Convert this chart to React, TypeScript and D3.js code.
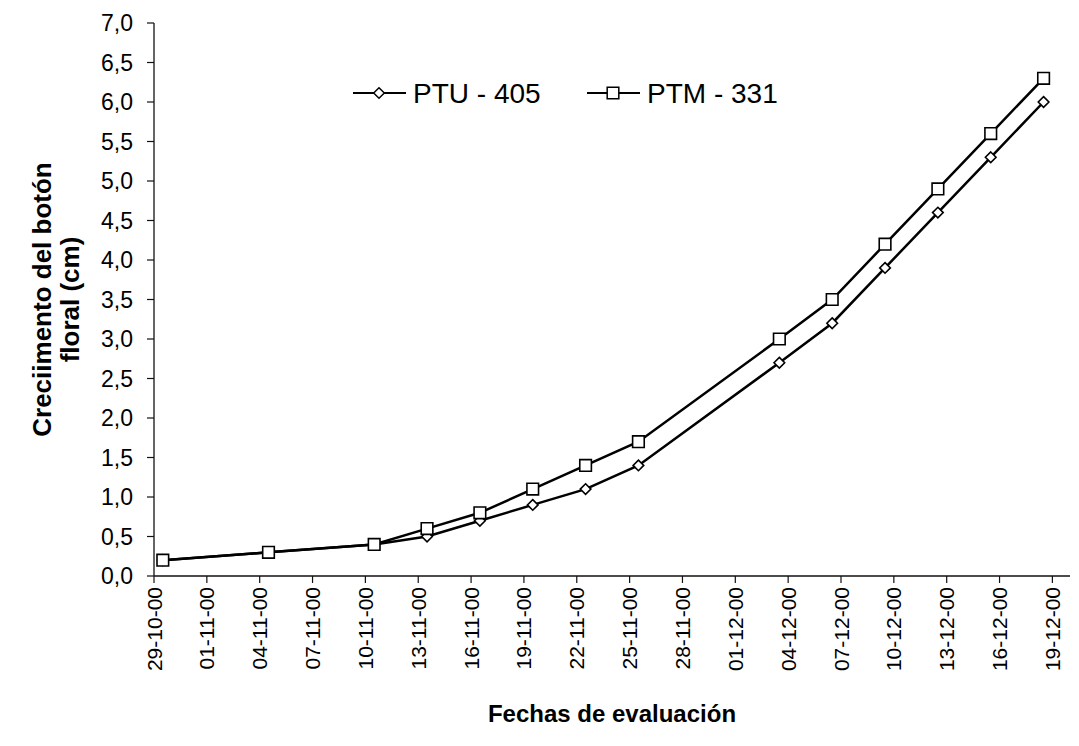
import React from 'react'
import * as d3 from 'd3'

const WIDTH = 1079
const HEIGHT = 746
const MARGIN = { top: 23, right: 9, bottom: 170, left: 154 }

const dates = [
  '2000-10-29', '2000-11-04', '2000-11-10', '2000-11-13', '2000-11-16',
  '2000-11-19', '2000-11-22', '2000-11-25', '2000-12-03', '2000-12-06',
  '2000-12-09', '2000-12-12', '2000-12-15', '2000-12-18'
]
const ptu405 = [0.2, 0.3, 0.4, 0.5, 0.7, 0.9, 1.1, 1.4, 2.7, 3.2, 3.9, 4.6, 5.3, 6.0]
const ptm331 = [0.2, 0.3, 0.4, 0.6, 0.8, 1.1, 1.4, 1.7, 3.0, 3.5, 4.2, 4.9, 5.6, 6.3]
const seriesNames = ['PTU - 405', 'PTM - 331']
const axisStart = '2000-10-29'
const axisEnd = '2000-12-20'
const yMax = 7

const FONT = '"Liberation Sans", Arial, sans-serif'

const parse = d3.utcParse('%Y-%m-%d')
const fmtDate = d3.utcFormat('%d-%m-%y')
const fmtNum = (v: number) => d3.format('.1f')(v).replace('.', ',')

const diamond = d3.symbol().type(d3.symbolDiamond2).size(72)()
const square = d3.symbol().type(d3.symbolSquare).size(135)()

const App = () => {
  const x = d3
    .scaleUtc()
    .domain([parse(axisStart)!, parse(axisEnd)!])
    .range([MARGIN.left, WIDTH - MARGIN.right])
  const y = d3
    .scaleLinear()
    .domain([0, yMax])
    .range([HEIGHT - MARGIN.bottom, MARGIN.top])

  // points sit in the middle of their day, like Excel's date axis
  const pointX = (d: string) => x(d3.utcHour.offset(parse(d)!, 12))

  const xTicks = d3.utcDay.range(parse(axisStart)!, parse(axisEnd)!, 3)
  const yTicks = d3.range(0, yMax + 0.001, 0.5)

  const line = d3
    .line<number>()
    .x((_, i) => pointX(dates[i]))
    .y(v => y(v))

  const x0 = MARGIN.left
  const y0 = y(0)

  const series = [
    { name: seriesNames[0], values: ptu405, marker: diamond, lx: 353 },
    { name: seriesNames[1], values: ptm331, marker: square, lx: 587 }
  ]

  return (
    <svg
      width={WIDTH}
      height={HEIGHT}
      style={{ position: 'absolute', left: 0, top: 0, background: '#fff' }}
      fontFamily={FONT}
    >
      {/* y axis */}
      <line x1={x0} x2={x0} y1={y(yMax)} y2={y0} stroke="#111" strokeWidth={1.3} />
      {yTicks.map(t => (
        <g key={t}>
          <line x1={x0 - 7} x2={x0} y1={y(t)} y2={y(t)} stroke="#111" strokeWidth={1.2} />
          <text x={x0 - 21} y={y(t)} dy="0.36em" textAnchor="end" fontSize={23} fill="#000">
            {fmtNum(t)}
          </text>
        </g>
      ))}

      {/* x axis */}
      <line x1={x0} x2={WIDTH - MARGIN.right} y1={y0} y2={y0} stroke="#111" strokeWidth={1.3} />
      {xTicks.map(t => (
        <g key={t.getTime()}>
          <line x1={x(t)} x2={x(t)} y1={y0} y2={y0 + 7} stroke="#111" strokeWidth={1.2} />
          <text
            transform={`translate(${x(t)},${y0 + 11}) rotate(-90)`}
            dy="0.36em"
            textAnchor="end"
            fontSize={21}
            fill="#000"
          >
            {fmtDate(t)}
          </text>
        </g>
      ))}

      {/* series */}
      {series.map(s => (
        <g key={s.name}>
          <path d={line(s.values) ?? ''} fill="none" stroke="#000" strokeWidth={2.5} />
          {s.values.map((v, i) => (
            <path
              key={i}
              d={s.marker ?? ''}
              transform={`translate(${pointX(dates[i])},${y(v)})`}
              fill="#fff"
              stroke="#000"
              strokeWidth={1.6}
            />
          ))}
        </g>
      ))}

      {/* legend */}
      {series.map(s => (
        <g key={`lg-${s.name}`} transform={`translate(${s.lx},93)`}>
          <line x1={0} x2={53} y1={0} y2={0} stroke="#000" strokeWidth={2} />
          <path d={s.marker ?? ''} transform="translate(26,0)" fill="#fff" stroke="#000" strokeWidth={1.5} />
          <text x={60} y={0} dy="0.36em" fontSize={28} fill="#000">
            {s.name}
          </text>
        </g>
      ))}

      {/* axis titles */}
      <text x={612} y={722} textAnchor="middle" fontSize={24} fontWeight="bold" fill="#000">
        Fechas de evaluación
      </text>
      <g transform={`translate(0,${(y(yMax) + y0) / 2}) rotate(-90)`} fontSize={26} fontWeight="bold" fill="#000">
        <text x={0} y={42} dy="0.36em" textAnchor="middle">
          Creciimento del botón
        </text>
        <text x={0} y={70} dy="0.36em" textAnchor="middle">
          floral (cm)
        </text>
      </g>
    </svg>
  )
}

export default App
